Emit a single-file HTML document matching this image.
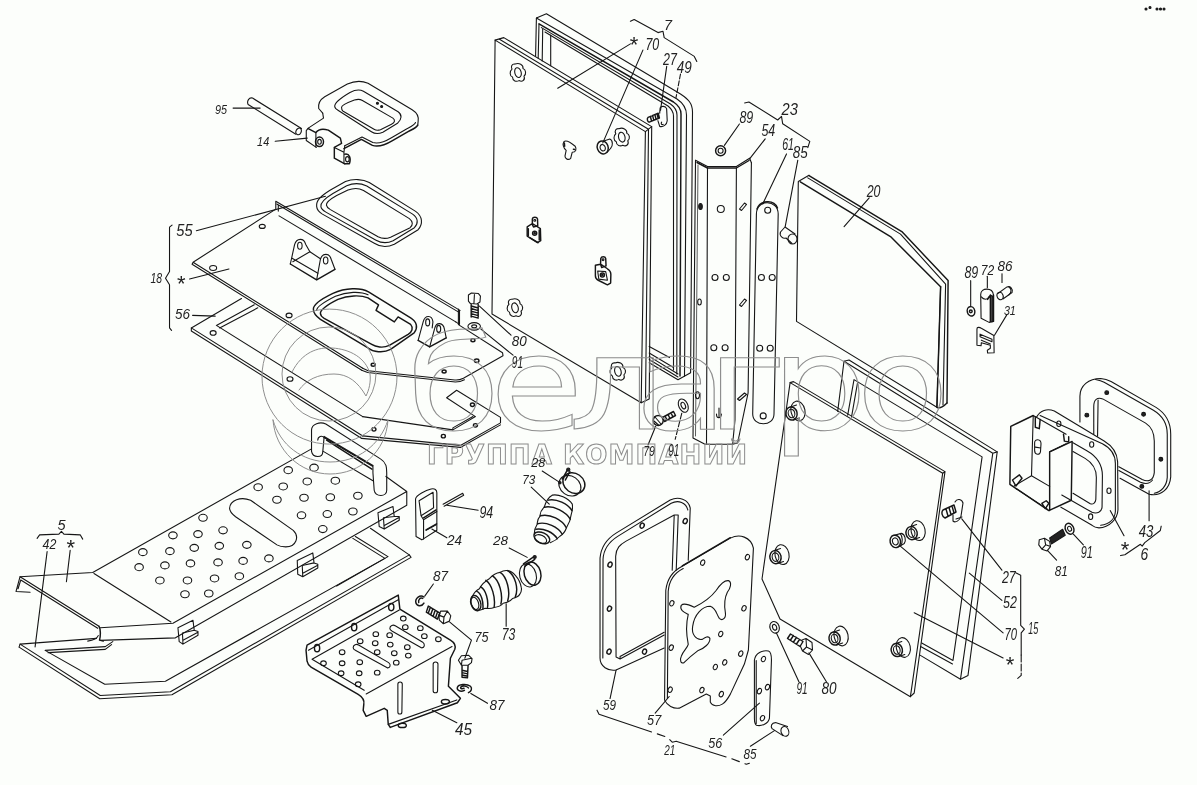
<!DOCTYPE html>
<html lang="ru">
<head>
<meta charset="utf-8">
<title>Схема</title>
<style>
html,body{margin:0;padding:0;background:#fcfefb;overflow:hidden}
svg{display:block}
.d path,.d polyline,.d line,.d ellipse,.d circle,.d rect{fill:none;stroke:#161616;stroke-width:1.1;vector-effect:non-scaling-stroke;stroke-linecap:round;stroke-linejoin:round}
.d .b{stroke-width:1.45}
.d .t{stroke-width:.7}
.d .f{fill:#222}
.d .w{fill:#fcfefb}
.d .wm path,.d .wm circle{stroke:#8e8e8e;stroke-width:1}
.d .wm text{fill:none;stroke:#8e8e8e;stroke-width:1}
.d text{font-family:"Liberation Sans",sans-serif;font-style:italic;fill:#222;stroke:none}
</style>
</head>
<body>
<svg class="d" width="1197" height="785" viewBox="0 0 1197 785">
<rect x="0" y="0" width="1197" height="785" style="fill:#fcfefb;stroke:none"/>
<!-- R1: handle 14 + pin 95 -->
<g transform="translate(200,70) scale(0.200501)">
<path d="M262,140 L506,292 M240,172 L478,320 M262,140 C245,135 232,155 240,172"/>
<ellipse cx="492" cy="306" rx="13" ry="17" transform="rotate(25 492 306)"/>
<line x1="165" y1="190" x2="300" y2="190"/>
<line x1="375" y1="355" x2="535" y2="340"/>
<!-- handle outer -->
<path d="M612,215 L592,192 C588,165 598,148 622,133 L735,70 C770,54 810,54 838,66 L1058,198 C1084,214 1092,232 1088,255 L1086,275"/>
<path class="b" d="M1086,275 C1080,288 1060,296 1040,306 L960,352 C930,370 890,386 860,376 L805,346 L718,392"/>
<path d="M1075,262 C1070,275 1050,284 1030,294 L955,338 C925,356 890,370 862,362 L808,334 L722,378"/>
<path d="M612,215 L616,240 L540,290 L530,302 L530,352 L580,386"/>
<path class="b" d="M540,292 L578,312 C590,296 615,292 640,300 L700,340 L706,366 L670,386 L670,440 L722,468"/>
<path d="M578,312 L578,384"/>
<ellipse class="b" cx="596" cy="358" rx="20" ry="24"/>
<ellipse cx="596" cy="358" rx="9" ry="12"/>
<path d="M670,386 L718,410 L718,466 M718,410 L722,378"/>
<path class="b" d="M722,420 C745,415 755,440 745,468 L722,468"/>
<ellipse cx="735" cy="445" rx="9" ry="13"/>
<!-- inner ring -->
<path d="M672,182 C670,165 700,140 748,112 C775,98 800,98 815,106 L988,208 C1008,222 1008,245 985,266 L912,310 C890,320 870,318 855,308 L690,202 C678,195 672,190 672,182 Z"/>
<path d="M706,186 C706,176 730,165 770,150 C785,145 800,146 810,152 L962,240 C975,250 972,262 955,270 L900,298 C888,302 875,300 868,296 L712,204 C708,200 706,194 706,186 Z"/>
<circle class="f" cx="885" cy="166" r="5"/><circle class="f" cx="906" cy="182" r="5"/>
</g>

<!-- R2: plate 18, gasket 55, 56 (upper part) -->
<g transform="translate(160,165) scale(0.250627)">
<!-- gasket 55 -->
<path d="M625,165 C622,140 645,122 680,100 L740,66 C770,54 810,56 835,70 L1020,185 C1048,205 1050,235 1030,258 L935,316 C905,330 875,325 855,312 L648,196 C632,186 626,178 625,165 Z"/>
<path d="M642,166 C640,148 660,132 690,114 L745,83 C770,72 800,72 825,84 L1008,196 C1030,212 1032,232 1015,250 L930,302 C905,314 880,310 862,300 L662,188 C648,180 643,175 642,166 Z"/>
<path d="M664,160 C662,148 680,136 705,122 L750,100 C770,92 795,92 812,102 L995,214 C1010,226 1010,240 998,250 L920,288 C900,296 885,294 870,286 L680,178 C670,172 665,168 664,160 Z"/>
<!-- plate -->
<path d="M462,145 L1197,580 M462,145 L462,176 L132,388 L128,396 L805,819 M132,388 L809,811"/>
<path d="M466,156 L1195,589 M472,160 L472,184"/>
<path d="M475,203 L1180,626"/>
<path d="M1195,580 L1195,636 L1180,626"/>
<ellipse cx="408" cy="245" rx="12" ry="8"/><ellipse cx="212" cy="411" rx="14" ry="10"/><ellipse cx="515" cy="600" rx="12" ry="9"/>
<!-- centre bracket -->
<path d="M520,395 L537,318 C545,290 574,290 581,316 L598,346 M625,458 L640,376 C648,350 676,350 683,376 L698,416"/>
<path class="b" d="M520,395 L625,458 L698,416"/>
<path d="M598,346 L530,386 M598,346 L640,374 M527,372 L630,432"/>
<ellipse cx="558" cy="322" rx="9" ry="14"/><ellipse cx="661" cy="381" rx="9" ry="14"/>
<!-- slot opening -->
<path class="b" d="M612,576 C610,556 640,536 690,512 C740,490 800,488 832,506 L1000,610 C1026,626 1030,650 1014,670 L920,736 C890,752 850,746 830,730 L640,616 C620,602 612,590 612,576 Z"/>
<path class="b" d="M640,592 C640,576 670,556 710,536 C750,520 800,518 830,530 L872,558 L862,580 L935,626 L950,606 L1000,636 C1012,650 1006,666 990,676 L915,720 C890,732 860,726 845,716 L655,612 C645,606 640,598 640,592 Z"/>
<path d="M625,580 C625,566 652,548 700,524 C745,505 800,503 830,518"/>
<!-- right ears -->
<path d="M1030,700 L1050,626 C1058,596 1086,598 1089,626 L1086,650 M1076,726 L1096,652 C1102,626 1130,626 1135,656 L1142,690"/>
<path class="b" d="M1030,700 L1076,726 L1142,690"/>
<ellipse cx="1068" cy="628" rx="8" ry="14"/><ellipse cx="1112" cy="654" rx="8" ry="14"/>
<!-- 56 -->
<path d="M325,533 L125,650 L125,662 L805,1091 M125,650 L809,1081"/>
<path d="M376,558 L225,640 L809,1004 M390,570 L238,650"/>
<ellipse cx="212" cy="670" rx="12" ry="9"/>
<!-- leaders -->
<line x1="145" y1="262" x2="660" y2="125"/>
<line x1="118" y1="455" x2="275" y2="415"/>
<line x1="130" y1="600" x2="220" y2="603"/>
<path d="M48,240 L38,248 L38,425 L22,452 L38,478 L38,650 L46,660"/>
</g>

<!-- R3: plate 18 lower-right, 56 right end, bolt 80 washer 91 -->
<g transform="translate(300,280) scale(0.250627)">
<path d="M632,116 L632,178 L808,290 L810,302 L652,392 C640,398 630,400 618,399 L272,362 L250,352"/>
<path d="M246,360 L270,369 L620,407 C635,407 645,404 656,398"/>
<ellipse class="b" cx="292" cy="338" rx="8" ry="6"/><ellipse class="b" cx="575" cy="365" rx="8" ry="6"/><ellipse class="b" cx="705" cy="322" rx="9" ry="7"/><ellipse class="b" cx="690" cy="240" rx="8" ry="6"/>
<!-- washer 91 -->
<ellipse cx="695" cy="185" rx="25" ry="15"/><ellipse cx="695" cy="185" rx="10" ry="6"/>
<!-- bolt 80 -->
<path d="M672,60 L684,52 L712,54 L720,64 L718,88 L706,96 L680,94 L672,84 Z M696,58 L694,94"/>
<path class="b" d="M683,98 L683,148 M711,98 L711,148 M683,104 L711,112 M683,114 L711,122 M683,124 L711,132 M683,134 L711,142 M683,144 L711,152"/>
<line x1="716" y1="104" x2="842" y2="220"/>
<line x1="722" y1="196" x2="850" y2="300"/>
<!-- 56 -->
<path d="M250,545 L610,598 L700,545 L585,470 L625,440 L800,548 L800,570 L640,660 L250,622"/>
<path d="M246,632 L640,668 L800,578"/>
<path d="M610,598 L610,590 L690,545"/>
<ellipse class="b" cx="295" cy="596" rx="8" ry="7"/><ellipse class="b" cx="572" cy="623" rx="8" ry="7"/><ellipse class="b" cx="700" cy="580" rx="8" ry="7"/><ellipse class="b" cx="688" cy="498" rx="8" ry="7"/>
</g>

<!-- R4: door 7 (global coords) -->
<g>
<path d="M495.1,40.1 L645.4,131.6 L641.2,402.8 L492,314 Z"/>
<path d="M495.1,40.1 L503.8,37.6 L651.7,126.6 L649.2,399 L641.2,402.8"/>
<path d="M499.5,39.2 L648.5,129.2 L645.5,400.8"/>
<path d="M645.4,131.6 L651.7,126.6"/>
<!-- frame 49 -->
<path d="M535.6,56 L536.4,18 L546.4,13.8 L680.5,94 C688,99 692.5,103 692.5,112 L690.6,372.7 L678,379.7 L649.2,362.7"/>
<path d="M536.4,18 L677,99 C683,103 686.5,108 686.5,115 L684.5,376"/>
<path class="b" d="M539,23.8 L673.5,102 C678,105 681,108 681,114 L680,376"/>
<path d="M541.4,27.6 L670.5,104 C674,106.5 677,110 677,115 L676.8,374"/>
<path d="M545,32 L668,106 C671,108.5 673.5,112 673.5,116 L673.5,370"/>
<path d="M539,24 L538.2,58 M542.7,29 L542.2,61 M550.7,35 L550.7,65.7"/>
<path d="M649.2,346.4 L669.5,357.6 M649.2,356.4 L678,374 M649.2,359.5 L678,377 M649.2,353 L673.5,367.5"/>
<!-- wing nuts -->
</g>

<g transform="translate(518,72.6)"><path d="M-3,-8.5 C-6,-9 -7.5,-6 -6,-3.5 C-8.5,-1.5 -8.5,3.5 -5.5,4.5 C-5.5,8.5 -1.5,9.5 1,8 C4.5,10 7.5,7 6,3.5 C8.5,1.5 8,-3 5,-4 C5.5,-8 1,-10 -3,-8.5 Z"/><ellipse cx="0" cy="0" rx="3.2" ry="5" transform="rotate(-15)"/></g><g transform="translate(621.8,137.2)"><path d="M-3,-8.5 C-6,-9 -7.5,-6 -6,-3.5 C-8.5,-1.5 -8.5,3.5 -5.5,4.5 C-5.5,8.5 -1.5,9.5 1,8 C4.5,10 7.5,7 6,3.5 C8.5,1.5 8,-3 5,-4 C5.5,-8 1,-10 -3,-8.5 Z"/><ellipse cx="0" cy="0" rx="3.2" ry="5" transform="rotate(-15)"/></g><g transform="translate(515,307.8)"><path d="M-3,-8.5 C-6,-9 -7.5,-6 -6,-3.5 C-8.5,-1.5 -8.5,3.5 -5.5,4.5 C-5.5,8.5 -1.5,9.5 1,8 C4.5,10 7.5,7 6,3.5 C8.5,1.5 8,-3 5,-4 C5.5,-8 1,-10 -3,-8.5 Z"/><ellipse cx="0" cy="0" rx="3.2" ry="5" transform="rotate(-15)"/></g><g transform="translate(617.9,371.4)"><path d="M-3,-8.5 C-6,-9 -7.5,-6 -6,-3.5 C-8.5,-1.5 -8.5,3.5 -5.5,4.5 C-5.5,8.5 -1.5,9.5 1,8 C4.5,10 7.5,7 6,3.5 C8.5,1.5 8,-3 5,-4 C5.5,-8 1,-10 -3,-8.5 Z"/><ellipse cx="0" cy="0" rx="3.2" ry="5" transform="rotate(-15)"/></g>
<g transform="translate(500,50) scale(0.15038)">
<!-- nut 70 -->
<ellipse class="b" cx="683" cy="648" rx="36" ry="44" transform="rotate(-20 683 648)"/><ellipse cx="683" cy="650" rx="17" ry="22" transform="rotate(-20 683 650)"/>
<path d="M690,605 L730,592 C752,600 752,640 735,655 L712,680"/>
<!-- keyhole -->
<path d="M425,610 C440,595 470,615 500,640 C512,660 505,680 480,680 L470,720 C455,735 432,725 432,705 L440,668 C420,650 415,625 425,610 Z"/>
<path class="b" d="M428,618 L430,640 M488,660 L498,662"/>
<!-- bolt 27 -->
<path class="b" d="M985,448 C975,455 980,478 992,480 L1060,452 L1052,420 Z M1000,442 L1008,474 M1015,436 L1023,468 M1030,430 L1038,462 M1044,424 L1052,456"/>
<path d="M1065,385 C1072,370 1100,372 1108,390 L1112,470 C1110,495 1085,515 1062,508 L1050,470 M1062,420 L1065,385 M1075,480 C1068,490 1075,500 1085,495"/>
</g>
<!-- R5: channel 54, strip 61, glass 20, pin 85, washer 89 (global coords) -->
<g>
<!-- channel 54 -->
<path d="M695.5,160.2 L707.5,166.5 L736.4,166.5 L749.6,158.2 L751.4,162.7"/>
<path class="b" d="M697,162.5 L707.5,168 L736.4,168 L749,160.5"/>
<path d="M695.5,160.2 L693,437.9 L705,444.2 L732.6,444.2 L737.6,443 L748.1,392.8 L751.4,162.7"/>
<path d="M707.5,168 L706.5,444 M736.4,168 L735,420 L732.6,444.2"/>
<path d="M698,165 L695.5,436" class="t"/>
<ellipse class="f" cx="700.5" cy="206.5" rx="1.8" ry="3"/><circle cx="720.8" cy="209" r="3.5"/>
<path d="M739.5,209 L744.5,203 L746.5,204.5 L741.5,210.5 Z"/>
<circle cx="715" cy="277.5" r="3"/><circle cx="726.3" cy="277.5" r="3"/>
<ellipse cx="699.5" cy="302" rx="1.8" ry="3"/>
<path d="M739.5,305 L744.5,299 L746.5,300.5 L741.5,306.5 Z"/>
<circle cx="713.8" cy="347.7" r="3"/><circle cx="725.1" cy="347.7" r="3"/>
<ellipse cx="697.5" cy="395.3" rx="2" ry="3.5"/>
<path d="M737.5,399 L744.5,393 L746.5,394.5 L739.5,400.5 Z"/>
<path d="M716.5,414 C716.5,419 721,419 721.5,414 M719,408 L719,417"/>
<!-- strip 61 -->
<path d="M756.4,214 C756.4,199 778.2,199 778.2,214 L774,414 C774,427 752.7,427 752.7,414 Z"/>
<path class="b" d="M757,209 C760,200 774,199 777.5,208"/>
<circle cx="767.7" cy="210.3" r="3"/><circle cx="761.4" cy="277.5" r="3"/><circle cx="772.2" cy="277.5" r="3"/><circle cx="759.7" cy="348.2" r="3"/><circle cx="770.2" cy="348.2" r="3"/><circle cx="763.2" cy="415.9" r="3"/>
<!-- pin 85 -->
<path d="M785,227 L780.5,232 C779,236 783,239 786,238 L792,243.5 M785,227 L795,234"/>
<ellipse cx="792.5" cy="239" rx="4.5" ry="5"/>
<!-- washer 89 -->
<circle class="b" cx="720.6" cy="150.8" r="5"/><circle cx="720.6" cy="150.8" r="2.5"/>
<!-- glass 20 -->
<path d="M809,175.2 L798.3,181.5 L796.5,321.4 L936.9,407.3 L940.6,286.7"/>
<path class="b" d="M800.3,181.8 L890.5,236.6 L940.6,286.7 M809,175.7 L901.8,231.6 L948.1,280.5 L947,403"/>
<path d="M807.8,177.9 L900.5,234.1 L945.6,284.2 L943,405"/>
<path class="b" d="M940.6,286.7 L936.9,407.3 C940,409 945,405 947,403"/>
</g>

<!-- R7: door 15 (global coords) -->
<g>
<path d="M790.1,382.6 L942.7,473.2 L910.4,696.7 L780,619 L762,579 Z"/>
<path d="M790.1,382.6 L793.5,381.6 L945,471.6 L914.2,693 L910.4,696.7 M942.7,473.2 L945,471.6"/>
<!-- frame 52 -->
<path d="M837.7,411.4 L844,361.3 L849,360 L997.2,451.9 L968,675.4 L960.5,679.2 L920.4,655.4"/>
<path d="M844,361.3 L992.8,453.2 L960.5,679.2 M992.8,453.2 L997.2,451.9"/>
<path d="M847.7,415.2 L854,379.6 L982.1,456.9 L953,660.4 L921.7,642.9"/>
<path d="M851.5,417.2 L857.7,381.8 M920.6,646.6 L952.5,664"/>
<g transform="translate(779.5,555.6)"><ellipse cx="2.5" cy="-1" rx="7" ry="10" transform="rotate(-12 2.5 -1)"/><ellipse class="b" cx="-4" cy="1.5" rx="5.6" ry="6.6" transform="rotate(-12 -4 1.5)"/><ellipse cx="-4" cy="1.5" rx="3.3" ry="4.3" transform="rotate(-12 -4 1.5)"/><path d="M-5,-5 L1,-7 M-2,8 L4,6"/></g><g transform="translate(915.6,531.6)"><ellipse cx="2.5" cy="-1" rx="7" ry="10" transform="rotate(-12 2.5 -1)"/><ellipse class="b" cx="-4" cy="1.5" rx="5.6" ry="6.6" transform="rotate(-12 -4 1.5)"/><ellipse cx="-4" cy="1.5" rx="3.3" ry="4.3" transform="rotate(-12 -4 1.5)"/><path d="M-5,-5 L1,-7 M-2,8 L4,6"/></g><g transform="translate(838.6,637)"><ellipse cx="2.5" cy="-1" rx="7" ry="10" transform="rotate(-12 2.5 -1)"/><ellipse class="b" cx="-4" cy="1.5" rx="5.6" ry="6.6" transform="rotate(-12 -4 1.5)"/><ellipse cx="-4" cy="1.5" rx="3.3" ry="4.3" transform="rotate(-12 -4 1.5)"/><path d="M-5,-5 L1,-7 M-2,8 L4,6"/></g><g transform="translate(900.8,648.5)"><ellipse cx="2.5" cy="-1" rx="7" ry="10" transform="rotate(-12 2.5 -1)"/><ellipse class="b" cx="-4" cy="1.5" rx="5.6" ry="6.6" transform="rotate(-12 -4 1.5)"/><ellipse cx="-4" cy="1.5" rx="3.3" ry="4.3" transform="rotate(-12 -4 1.5)"/><path d="M-5,-5 L1,-7 M-2,8 L4,6"/></g><g transform="translate(795.5,412)"><ellipse cx="2.5" cy="-1" rx="7" ry="10" transform="rotate(-12 2.5 -1)"/><ellipse class="b" cx="-4" cy="1.5" rx="5.6" ry="6.6" transform="rotate(-12 -4 1.5)"/><ellipse cx="-4" cy="1.5" rx="3.3" ry="4.3" transform="rotate(-12 -4 1.5)"/><path d="M-5,-5 L1,-7 M-2,8 L4,6"/></g>
<g transform="translate(895.3,541.4)"><ellipse class="b" cx="0" cy="0" rx="5.2" ry="6.3" transform="rotate(-15)"/><ellipse cx="0" cy="0" rx="2.8" ry="3.6" transform="rotate(-15)"/><path d="M-1,-6.2 L6,-8 C10,-7 11,-1 9,2 L3,5.5"/><path d="M5,-7.5 C7.5,-5 7.5,1 5.5,4"/></g>
<!-- bolt 27 lower -->
<path class="b" d="M943,510 C941,512 942,517 945,518 L956,512 L954,505 Z M946,509 L948,516 M949,507.5 L951,514.5 M952,506 L954,513"/>
<path d="M955,502 C957,498 962,499 963,503 L961,516 C960,521 955,523 953,521 L953,515 M956,519 L962,517"/>
<!-- washer 91, bolt 80 -->
<ellipse cx="774.6" cy="627.3" rx="4.6" ry="6" transform="rotate(-20 774.6 627.3)"/><ellipse cx="774.6" cy="627.3" rx="2" ry="3" transform="rotate(-20 774.6 627.3)"/>
<path class="b" d="M787.5,638.5 L790.5,634 L803,641.5 L800,646.5 Z M790.5,640 L793.5,635.5 M793.5,642 L796.5,637.5 M796.5,644 L799.5,639.5"/>
<path d="M802,640 L806,638.5 L812,642.5 L812.5,650 L808.5,654.5 L802.5,651 L800.5,646.5 M806,638.5 L806.5,647 L802.5,651 M806.5,647 L812.5,650"/>
</g>

<!-- R9: 89/72/86/31 small parts -->
<g transform="translate(950,270) scale(0.125313)">
<ellipse class="b" cx="168" cy="330" rx="30" ry="38" transform="rotate(-15 168 330)"/><circle class="b" cx="166" cy="330" r="11"/>
<path d="M245,195 C245,140 340,135 347,200 L347,410 L312,418 L248,385 Z"/>
<path class="b" d="M300,235 L322,200 L345,215 M322,200 L322,410 M335,210 L335,412 M347,200 L347,410"/>
<path d="M250,215 C270,240 300,240 310,215"/>
<path d="M385,185 L455,135 C480,125 505,150 495,180 L425,230"/>
<ellipse cx="400" cy="208" rx="24" ry="30" transform="rotate(-20 400 208)"/>
<path d="M470,135 C495,150 490,180 470,198"/>
<path d="M215,470 C215,455 235,455 250,465 L350,522 L352,660 L300,662 L298,640 L322,625 L322,600 L250,580 L248,605 L215,600 Z"/>
<path d="M240,512 L335,552 L335,572 L240,532 Z M250,560 L322,590"/>
<line x1="165" y1="85" x2="165" y2="290"/><line x1="298" y1="50" x2="298" y2="142"/><line x1="415" y1="30" x2="415" y2="100"/><line x1="452" y1="360" x2="355" y2="520"/>
</g>

<!-- R10: box 6, gasket 43, bolt 81, washer 91 -->
<g transform="translate(990,365) scale(0.172932)">
<!-- gasket 43 -->
<path d="M520,330 L520,180 C520,120 570,78 640,78 C665,80 680,85 700,96 L960,245 C1020,282 1045,330 1045,400 L1045,647 C1040,715 990,762 920,747 L752,655"/>
<path d="M610,84 C630,88 645,92 660,100 L945,262 C1000,295 1025,340 1025,400 L1025,650 C1022,700 990,735 950,742"/>
<path d="M600,400 L600,240 C600,200 620,184 652,196 L900,336 C940,362 950,400 950,440 L950,622 C945,665 918,680 880,662 L745,588"/>
<path d="M622,412 L625,202 M745,610 L870,678 C900,690 925,685 940,665"/>
<circle class="f" cx="675" cy="160" r="11"/><circle class="f" cx="560" cy="290" r="11"/><circle class="f" cx="888" cy="285" r="11"/><circle class="f" cx="988" cy="545" r="11"/><circle class="f" cx="878" cy="702" r="11"/>
<!-- box flange -->
<path d="M270,300 C290,262 330,250 372,266 L660,440 C710,470 735,510 738,560 L740,837 C738,890 690,940 630,942 C610,940 600,935 590,927 L410,822"/>
<path d="M290,292 L650,456 C700,482 725,520 725,570 L725,847 C722,890 690,920 640,927"/>
<path d="M480,450 L560,496 C620,530 650,580 650,640 L648,822 C645,850 620,862 590,852 L415,752"/>
<path d="M480,500 L550,540 C600,570 615,610 615,650 L612,777 C610,800 595,808 580,802 L480,742"/>
<ellipse cx="398" cy="340" rx="12" ry="16"/><ellipse cx="588" cy="460" rx="12" ry="16"/><ellipse cx="688" cy="727" rx="12" ry="16"/><ellipse cx="582" cy="877" rx="12" ry="16"/>
<!-- box body -->
<path class="b" d="M250,292 L120,355 L115,690 L340,842 L470,782 L475,442 L345,502 L345,842"/>
<path d="M250,292 L240,640 L140,700 M240,640 L345,702 M250,292 L440,400 M345,502 L440,455 M150,715 L330,832"/>
<path class="b" d="M262,300 L262,360 L285,368 L290,315 M425,400 L430,440 L455,445 L455,415 M130,665 L170,635 L185,655 L150,700 Z M300,800 L325,785 L340,800 L320,830 Z"/>
<path d="M258,450 C258,425 295,425 295,455 L292,500 C290,525 258,520 258,495 Z M262,475 L293,480"/>
<!-- bolt 81 -->
<path d="M285,1010 L315,1002 L345,1020 L350,1050 L330,1075 L300,1065 L282,1040 Z M315,1002 L322,1040 L350,1050 M322,1040 L300,1065"/>
<path d="M345,1000 L420,950 L435,985 L355,1035 Z" style="fill:#222"/>
<ellipse class="b" cx="460" cy="947" rx="24" ry="33" transform="rotate(-25 460 947)"/><ellipse cx="460" cy="947" rx="11" ry="15" transform="rotate(-25 460 947)"/>
<line x1="482" y1="978" x2="540" y2="1040"/><line x1="332" y1="1072" x2="385" y2="1128"/>
<line x1="695" y1="842" x2="775" y2="987"/>
<path d="M920,727 L920,900" stroke-dasharray="40 8"/>
<path d="M990,932 L985,957 L895,1027 L880,1047 L870,1037 L780,1097 L755,1102"/>
</g>

<!-- R12: step 5 / gasket 42 / handle / latch 24 -->
<g transform="translate(0,400) scale(0.250627)">
<path d="M80,705 L370,688 L1243,195 M1290,205 L1488,322 M1540,305 L1623,365 L1623,420 L700,949 L400,959 M1623,365 L690,891 L400,909 M375,692 L682,886"/>
<path d="M80,705 L64,764 L120,767 M83,718 L72,753 M80,705 L395,903 M83,718 L390,911"/>
<path class="b" d="M395,903 C403,915 401,945 397,958 L412,962"/><path d="M350,962 C375,958 388,950 392,940"/>
<ellipse cx="1150" cy="280" rx="17" ry="14"/><ellipse cx="1030" cy="348" rx="17" ry="14"/><ellipse cx="1130" cy="345" rx="17" ry="14"/><ellipse cx="1105" cy="398" rx="17" ry="14"/><ellipse cx="810" cy="470" rx="17" ry="14"/><ellipse cx="690" cy="540" rx="17" ry="14"/><ellipse cx="790" cy="535" rx="17" ry="14"/><ellipse cx="890" cy="520" rx="17" ry="14"/><ellipse cx="570" cy="607" rx="17" ry="14"/><ellipse cx="678" cy="603" rx="17" ry="14"/><ellipse cx="775" cy="590" rx="17" ry="14"/><ellipse cx="875" cy="582" rx="17" ry="14"/><ellipse cx="985" cy="578" rx="17" ry="14"/><ellipse cx="555" cy="667" rx="17" ry="14"/><ellipse cx="658" cy="660" rx="17" ry="14"/><ellipse cx="760" cy="652" rx="17" ry="14"/><ellipse cx="870" cy="648" rx="17" ry="14"/><ellipse cx="970" cy="642" rx="17" ry="14"/><ellipse cx="1073" cy="632" rx="17" ry="14"/><ellipse cx="638" cy="720" rx="17" ry="14"/><ellipse cx="748" cy="720" rx="17" ry="14"/><ellipse cx="856" cy="712" rx="17" ry="14"/><ellipse cx="955" cy="703" rx="17" ry="14"/><ellipse cx="738" cy="775" rx="17" ry="14"/><ellipse cx="833" cy="772" rx="17" ry="14"/><ellipse cx="1253" cy="270" rx="17" ry="14"/><ellipse cx="1226" cy="325" rx="17" ry="14"/><ellipse cx="1338" cy="322" rx="17" ry="14"/><ellipse cx="1428" cy="382" rx="17" ry="14"/><ellipse cx="1318" cy="388" rx="17" ry="14"/><ellipse cx="1213" cy="390" rx="17" ry="14"/><ellipse cx="1408" cy="445" rx="17" ry="14"/><ellipse cx="1306" cy="455" rx="17" ry="14"/><ellipse cx="1203" cy="460" rx="17" ry="14"/><ellipse cx="1288" cy="515" rx="17" ry="14"/>
<path d="M916,432 C918,400 960,384 1000,400 L1170,520 C1196,545 1182,586 1140,586 C1125,586 1115,584 1105,578 L940,466 C922,452 916,442 916,432 Z"/>
<!-- clips -->
<path d="M1508,450 L1568,425 L1573,465 L1593,465 L1593,480 L1533,515 L1513,505 Z M1533,515 L1530,470 L1573,465 M1535,500 L1590,470"/>
<path d="M1186,640 L1248,610 L1253,650 L1268,655 L1268,670 L1208,705 L1188,695 Z M1208,705 L1206,660 L1253,650 M1210,690 L1266,660"/>
<path d="M710,909 L770,879 L775,919 L790,924 L790,939 L730,974 L715,964 Z M730,974 L728,930 L775,919 M732,958 L788,928"/>
<!-- handle -->
<path d="M1243,120 C1243,95 1278,85 1300,96 L1518,235 C1543,250 1543,270 1543,290 L1543,360 C1543,388 1498,388 1493,360 L1488,290 L1488,265 L1293,150 L1288,205 C1288,232 1248,232 1243,205 Z"/>
<path class="b" d="M1293,146 L1488,262 M1303,160 L1484,276"/>
<path d="M1268,160 C1268,145 1285,140 1293,150"/>
<!-- gasket 42 -->
<path d="M385,951 L80,974 L400,1179 L680,1164 L1633,618 L1478,512"/>
<path d="M76,986 L398,1192 L686,1176 L1640,628 L1633,618 M80,974 L76,986"/>
<path d="M450,964 L420,984 L180,999 L418,1134 L660,1122 L1548,625 L1418,545"/>
<path d="M445,976 L420,995 L192,1008 M1408,552 L1536,632 L1343,742"/>
<!-- latch 24 -->
<path d="M1658,395 C1660,380 1700,360 1720,355 C1735,352 1743,358 1743,370 L1743,520 L1683,558 L1660,545 Z"/>
<path d="M1672,402 L1728,368 L1730,430 L1680,462 Z M1680,462 L1690,478 L1743,445 M1690,478 L1690,555 M1700,520 L1740,498"/>
<path class="b" d="M1690,470 L1740,438 M1700,518 L1742,494"/>
<path d="M1768,416 L1846,372 M1772,424 L1850,380 L1846,372"/>
<line x1="1783" y1="420" x2="1908" y2="440"/><line x1="1723" y1="515" x2="1783" y2="550"/>
<path d="M148,552 L158,538 L235,535 L245,524 L255,535 L320,538 L330,555"/>
<line x1="188" y1="605" x2="140" y2="985"/><line x1="280" y1="600" x2="265" y2="725"/>
</g>

<!-- R15: bracket 45, bolts 75, clips 87 -->
<g transform="translate(290,570) scale(0.200501)">
<path class="b" d="M85,375 L540,125 L548,195 L800,350 C820,362 828,375 822,395 L800,440 L790,580 L850,640 L835,662 L500,785 M85,375 L80,400 L85,455 C88,470 95,478 105,484 L340,620 C365,635 372,650 368,670 L365,700 L380,730 L470,690 L485,700 L490,770 L500,785"/>
<path d="M110,445 L545,200 M92,400 L540,148 M380,618 L808,382 M490,770 L832,648 M110,445 L370,600"/>
<ellipse class="b" cx="135" cy="390" rx="13" ry="18"/><ellipse class="b" cx="320" cy="285" rx="13" ry="18"/><ellipse class="b" cx="505" cy="185" rx="13" ry="18"/>
<ellipse cx="565" cy="242" rx="14" ry="12"/><ellipse cx="575" cy="285" rx="14" ry="12"/><ellipse cx="650" cy="290" rx="14" ry="12"/><ellipse cx="670" cy="330" rx="14" ry="12"/><ellipse cx="740" cy="345" rx="14" ry="12"/><ellipse cx="428" cy="320" rx="14" ry="12"/><ellipse cx="497" cy="325" rx="14" ry="12"/><ellipse cx="350" cy="355" rx="14" ry="12"/><ellipse cx="425" cy="365" rx="14" ry="12"/><ellipse cx="500" cy="372" rx="14" ry="12"/><ellipse cx="585" cy="385" rx="14" ry="12"/><ellipse cx="260" cy="410" rx="14" ry="12"/><ellipse cx="435" cy="410" rx="14" ry="12"/><ellipse cx="520" cy="415" rx="14" ry="12"/><ellipse cx="590" cy="427" rx="14" ry="12"/><ellipse cx="167" cy="465" rx="14" ry="12"/><ellipse cx="260" cy="465" rx="14" ry="12"/><ellipse cx="348" cy="460" rx="14" ry="12"/><ellipse cx="530" cy="462" rx="14" ry="12"/><ellipse cx="255" cy="515" rx="14" ry="12"/><ellipse cx="345" cy="515" rx="14" ry="12"/><ellipse cx="435" cy="512" rx="14" ry="12"/><ellipse cx="340" cy="570" rx="14" ry="12"/>
<path d="M498,292 C498,275 515,272 525,278 L662,360 C675,370 672,390 655,388 L510,305 C502,300 498,298 498,292 Z"/>
<path d="M315,388 C315,372 332,368 342,374 L492,462 C505,472 500,490 485,488 L328,402 C320,398 315,395 315,388 Z"/>
<path d="M538,570 C538,555 560,555 560,570 L558,708 C558,722 538,722 538,708 Z M714,470 C714,455 738,455 738,470 L736,602 C736,616 714,616 714,602 Z"/>
<ellipse class="b" cx="775" cy="657" rx="20" ry="11"/><ellipse class="b" cx="560" cy="775" rx="20" ry="11"/>
<!-- c-clip 87 -->
<path class="b" d="M668,135 C650,120 622,140 628,165 C635,185 660,180 668,165 M662,142 C650,135 638,148 642,162"/>
<!-- bolt 75 upper -->
<path class="b" d="M690,180 L748,215 L735,245 L680,210 Z M700,186 L690,215 M712,194 L702,223 M724,201 L714,231 M736,208 L726,238"/>
<path d="M752,205 L785,205 L802,228 L795,255 L765,268 L745,250 L742,225 Z M765,268 L768,235 L785,205 M768,235 L742,225"/>
<!-- bolt 75 lower -->
<path d="M840,450 L855,428 L890,425 L908,442 L905,462 L888,475 L855,475 Z M855,475 L858,450 L905,440"/>
<path class="b" d="M858,478 L858,535 L885,538 L888,478 M858,500 L886,506 M858,512 L886,518 M858,524 L886,530"/>
<!-- c-clip lower -->
<path class="b" d="M870,600 C850,610 830,600 835,585 C840,570 880,565 900,580 C910,590 905,605 890,612 M868,590 C855,595 848,590 852,584 C860,576 882,578 890,588"/>
<line x1="715" y1="70" x2="672" y2="130"/><path d="M797,260 L905,350 L872,440"/><line x1="902" y1="616" x2="985" y2="665"/><line x1="710" y1="700" x2="832" y2="762"/>
</g>

<!-- R16: upper bellows 73 + clamp 28 -->
<g transform="translate(450,440) scale(0.200501)">
<ellipse cx="598" cy="228" rx="48" ry="58" transform="rotate(-55 598 228)"/><ellipse class="b" cx="618" cy="215" rx="48" ry="58" transform="rotate(-55 618 215)"/>
<path class="b" d="M560,195 L585,150 M575,200 L598,158"/><circle class="f" cx="590" cy="148" r="8"/><circle class="f" cx="548" cy="213" r="6"/>
<path d="M510,275 C490,285 480,300 470,335 C455,350 448,365 450,378 C438,392 434,405 436,418 C425,435 420,455 420,470 M510,275 C540,268 590,290 610,320 C612,335 610,355 605,370 C602,395 595,415 582,435 C575,455 565,470 548,480 C535,495 520,505 500,512"/>
<path class="b" d="M490,300 C530,290 590,320 608,352 M470,335 C520,325 580,360 600,395 M450,378 C500,365 560,400 580,437 M436,418 C480,405 540,435 560,470 M428,445 C465,438 515,460 535,492"/>
<ellipse class="b" cx="458" cy="488" rx="42" ry="26" transform="rotate(25 458 488)"/><ellipse cx="452" cy="494" rx="32" ry="19" transform="rotate(25 452 494)"/>
<line x1="460" y1="155" x2="545" y2="210"/><line x1="405" y1="235" x2="495" y2="320"/>
</g>
<!-- R17: lower bellows 73 + clamp 28 -->
<g transform="translate(440,530) scale(0.150376)">
<ellipse cx="585" cy="302" rx="55" ry="78" transform="rotate(-15 585 302)"/><ellipse class="b" cx="615" cy="290" rx="55" ry="78" transform="rotate(-15 615 290)"/>
<path class="b" d="M555,225 L620,180 M565,240 L630,195"/><circle class="f" cx="630" cy="180" r="10"/>
<path d="M215,440 C225,420 240,400 262,390 C275,365 300,340 330,322 C350,300 375,285 400,282 C415,272 435,268 450,270 C480,272 530,320 540,380 C545,400 540,415 530,428 C520,445 505,450 482,456 C465,475 445,485 420,487 C405,505 385,512 360,515 C345,522 325,524 300,520 C280,530 260,535 240,535"/>
<path class="b" d="M450,270 C500,300 525,390 500,447 M400,282 C445,310 470,410 450,472 M350,305 C395,335 420,430 405,492 M305,335 C345,360 370,450 360,512 M270,378 C305,395 325,470 315,521 M245,408 C275,420 290,480 285,526"/>
<ellipse class="b" cx="238" cy="486" rx="32" ry="52" transform="rotate(-18 238 486)"/><ellipse cx="232" cy="488" rx="24" ry="42" transform="rotate(-18 232 488)"/>
<line x1="460" y1="120" x2="580" y2="182"/><line x1="440" y1="490" x2="440" y2="640"/>
</g>

<!-- R18: gasket 59, plate 57, strip 56, pin 85 -->
<g transform="translate(590,490) scale(0.200501)">
<path d="M490,350 L500,90 C492,45 440,30 400,50 L130,215 C90,240 55,280 50,340 L50,838 C50,880 90,905 130,898 L370,788"/>
<path d="M488,100 C480,62 440,48 405,66 L140,230 C100,255 68,290 65,345 L64,838"/>
<path d="M430,400 L440,125 L420,125 L180,255 C150,272 130,290 128,330 L130,833 L150,843 L370,723 M420,125 L410,400 M150,830 L370,710 M150,843 L150,830"/>
<ellipse class="b" cx="260" cy="178" rx="10" ry="13" transform="rotate(25 260 178)"/><ellipse class="b" cx="475" cy="155" rx="10" ry="13" transform="rotate(25 475 155)"/><ellipse class="b" cx="100" cy="372" rx="10" ry="13" transform="rotate(25 100 372)"/><ellipse class="b" cx="97" cy="592" rx="10" ry="13" transform="rotate(25 97 592)"/><ellipse class="b" cx="95" cy="806" rx="10" ry="13" transform="rotate(25 95 806)"/><ellipse class="b" cx="272" cy="806" rx="10" ry="13" transform="rotate(25 272 806)"/>
<path d="M372,1028 L378,500 C385,440 420,400 460,380 L700,240 C745,218 802,232 815,290 L790,798 L770,868 L700,1018 C685,1045 675,1060 660,1068 C640,1080 610,1080 600,1058 L600,1028 L580,1018 L445,1088 C415,1092 385,1075 372,1048 Z"/>
<path d="M386,1040 L390,505 C395,450 425,412 465,392"/>
<path class="b" d="M460,378 L700,238"/>
<ellipse cx="562" cy="362" rx="10" ry="14" transform="rotate(25 562 362)"/><ellipse cx="785" cy="335" rx="10" ry="14" transform="rotate(25 785 335)"/><ellipse cx="408" cy="565" rx="10" ry="14" transform="rotate(25 408 565)"/><ellipse cx="768" cy="590" rx="10" ry="14" transform="rotate(25 768 590)"/><ellipse cx="652" cy="718" rx="10" ry="14" transform="rotate(25 652 718)"/><ellipse cx="405" cy="786" rx="10" ry="14" transform="rotate(25 405 786)"/><ellipse cx="752" cy="816" rx="10" ry="14" transform="rotate(25 752 816)"/><ellipse cx="672" cy="860" rx="10" ry="14" transform="rotate(25 672 860)"/><ellipse cx="625" cy="883" rx="10" ry="14" transform="rotate(25 625 883)"/><ellipse cx="400" cy="996" rx="10" ry="14" transform="rotate(25 400 996)"/><ellipse cx="558" cy="998" rx="10" ry="14" transform="rotate(25 558 998)"/><ellipse cx="655" cy="1018" rx="10" ry="14" transform="rotate(25 655 1018)"/>
<path d="M455,575 C470,560 500,575 520,585 C550,570 600,540 630,500 C650,470 670,450 690,452 C710,460 700,490 685,510 C670,540 670,580 675,610 C680,640 660,655 645,640 C630,620 630,590 600,580 C560,580 520,620 512,680 C505,720 530,750 560,745 C575,735 590,725 598,740 C600,765 570,790 540,800 C500,830 480,850 470,860 C455,870 445,850 455,830 C465,800 485,790 490,770 C480,720 480,660 490,620 C470,610 445,600 455,575 Z"/>
<!-- strip 56 -->
<path d="M820,848 C825,813 860,798 890,803 C905,808 905,828 905,848 L895,1138 C890,1168 850,1180 830,1173 C820,1168 820,1153 820,1138 Z M829,850 L829,1165"/>
<ellipse cx="865" cy="843" rx="10" ry="14" transform="rotate(25 865 843)"/><ellipse cx="885" cy="983" rx="10" ry="14" transform="rotate(25 885 983)"/><ellipse cx="845" cy="1003" rx="10" ry="14" transform="rotate(25 845 1003)"/><ellipse cx="860" cy="1138" rx="10" ry="14" transform="rotate(25 860 1138)"/>
<!-- pin 85 -->
<path d="M925,1160 L985,1180 M908,1190 L962,1225 M925,1160 C905,1160 900,1180 908,1190"/><ellipse cx="972" cy="1204" rx="19" ry="25" transform="rotate(-20 972 1204)"/>
<line x1="130" y1="898" x2="100" y2="1040"/><line x1="395" y1="1030" x2="325" y2="1113"/><line x1="845" y1="1063" x2="665" y2="1223"/><line x1="920" y1="1200" x2="800" y2="1278"/>
<path d="M35,1098 L45,1118 L385,1233 L410,1258 L430,1253 L445,1258 L700,1338 L780,1368 L795,1363" stroke-dasharray="60 6 8 6"/>
</g>

<!-- bolt 79 + washer 91 -->
<g>
<circle class="b" cx="658.2" cy="420.4" r="5"/><path d="M655,417 L661,424 M654,421 L659,425.5"/>
<path class="b" d="M662.5,417.5 L673.5,411.5 L675.5,415.5 L664.5,421.5 Z M665,416 L667,420 M668,414.5 L670,418.5 M671,413 L673,417"/>
<ellipse cx="683.3" cy="405.6" rx="4.5" ry="7" transform="rotate(-25 683.3 405.6)"/><ellipse cx="683.3" cy="405.6" rx="2" ry="3.5" transform="rotate(-25 683.3 405.6)"/>
<line x1="655.7" y1="426.2" x2="648" y2="445"/><line x1="681.8" y1="413.2" x2="675.2" y2="439.3" stroke-dasharray="6 2"/>
<ellipse cx="290" cy="379" rx="3" ry="2.3"/>
</g>
<!-- labels leaders (global) -->
<g>
<path d="M630.4,21.3 L634.2,19.5 L658,32.6 L663,31.3 L664.2,37.6 L694.3,56.4 L696.8,61.4"/>
<line x1="630.4" y1="43.9" x2="557.7" y2="88.2"/><line x1="642.9" y1="50.1" x2="602.8" y2="142.9"/><line x1="666.7" y1="66.4" x2="660.5" y2="110.3"/><line x1="680.5" y1="74" x2="676" y2="97.7" stroke-dasharray="5 2"/>
<line x1="739.4" y1="124" x2="724.4" y2="145.4"/>
<!-- R5 leaders -->
<path d="M744.6,103 L748.9,102 L777.7,120 L781.5,116.3 L782.7,123.8 L809.8,141.4 L807.8,147.6"/>
<line x1="765.2" y1="138.9" x2="749.6" y2="158.9"/><line x1="786.5" y1="153.9" x2="762.7" y2="204"/><line x1="797.8" y1="160.2" x2="785.2" y2="226.6"/><line x1="869.2" y1="197.8" x2="844.1" y2="226.6"/>
<!-- R8 leaders -->
<line x1="961.8" y1="518.8" x2="1001.9" y2="570.2"/><line x1="969.3" y1="573.2" x2="1001.9" y2="600.3"/><line x1="899.1" y1="545.1" x2="1003.1" y2="632.8"/><line x1="914.2" y1="612.8" x2="1003.1" y2="657.9"/>
<path d="M1015.7,572.7 L1020.7,575.2 L1020.7,625.3 L1024.4,629.1 L1021.2,632.8 L1021.2,655"/><path d="M1021.2,655 L1021.2,675.4 L1016.9,679.2" stroke-dasharray="7 2"/>
<line x1="776.3" y1="632.8" x2="798.9" y2="681.7"/><line x1="808.9" y1="652.9" x2="826.4" y2="681.7"/>
</g>

<!-- latches on door 7 -->
<g transform="translate(510,200) scale(0.114613)">
<path class="b" d="M195,215 L195,165 C198,145 235,145 240,165 L242,225 M150,235 L195,205 L265,250 L268,355 L240,372 L150,315 Z M195,215 L205,235 L240,225"/>
<circle class="b" cx="215" cy="290" r="18"/><circle class="f" cx="215" cy="290" r="7"/><circle cx="216" cy="178" r="8"/>
<path class="b" d="M160,250 L160,310 M255,262 L255,350 M175,330 L245,372"/>
<path class="b" d="M790,560 L792,510 C798,490 830,490 835,510 L838,575 M745,570 L790,560 L850,600 C872,612 880,630 880,650 L878,725 L850,740 L770,700 C750,690 745,680 745,660 Z M790,560 L800,590 L838,575"/>
<path d="M765,620 L835,625 L850,700 L775,690 Z"/>
<circle class="b" cx="806" cy="655" r="18"/><circle class="f" cx="806" cy="655" r="7"/><circle cx="812" cy="522" r="8"/>
</g>

<g><circle class="f" cx="1146" cy="9" r="1"/><circle class="f" cx="1150" cy="7.5" r="1"/><circle class="f" cx="1157" cy="9" r="1"/><circle class="f" cx="1160.5" cy="9" r="1"/><circle class="f" cx="1164" cy="9" r="1"/></g>
<!--PARTS-->
<g class="wm" style="filter:grayscale(1)">
<circle cx="329.5" cy="376.6" r="67.5"/><circle cx="329" cy="374" r="47"/>
<path d="M292,372 C302,352 318,347 332,348 C350,349 366,358 370,374 C371,382 369,390 366,396 C358,382 348,374 334,374 C318,374 306,380 299,390"/>
<path d="M273,420 C275,450 300,474 330,474 C360,474 386,452 388,420 C380,445 358,462 330,462 C302,462 280,445 273,420 Z"/>
<text id="wmt" transform="scale(1.17,1)" x="347.5 418.5 485.9 542.6 604 658.7 731.9" y="429.5" font-size="130" style="font-family:'DejaVu Sans',sans-serif;font-style:normal">белагро</text>
<text x="427" y="464.3" font-size="26" textLength="320" lengthAdjust="spacing" style="font-family:'DejaVu Sans',sans-serif;font-style:normal;font-weight:bold">ГРУППА КОМПАНИЙ</text>
</g>
<g style="filter:grayscale(1)">
<text x="215.0" y="113.7" font-size="11.9" textLength="12.0" lengthAdjust="spacingAndGlyphs">95</text>
<text x="257.1" y="146.2" font-size="12.5" textLength="12.1" lengthAdjust="spacingAndGlyphs">14</text>
<text x="176.3" y="236.4" font-size="15.6" textLength="16.3" lengthAdjust="spacingAndGlyphs">55</text>
<text x="175.0" y="319.1" font-size="13.9" textLength="15.0" lengthAdjust="spacingAndGlyphs">56</text>
<text x="150.4" y="282.7" font-size="14.9" textLength="11.6" lengthAdjust="spacingAndGlyphs">18</text>
<text x="511.8" y="345.7" font-size="14.0" textLength="15.0" lengthAdjust="spacingAndGlyphs">80</text>
<text x="511.8" y="367.7" font-size="15.7" textLength="11.2" lengthAdjust="spacingAndGlyphs">91</text>
<text x="664.0" y="30.0" font-size="15.3" textLength="8.0" lengthAdjust="spacingAndGlyphs">7</text>
<text x="645.4" y="50.0" font-size="15.6" textLength="13.8" lengthAdjust="spacingAndGlyphs">70</text>
<text x="663.0" y="65.2" font-size="15.7" textLength="13.8" lengthAdjust="spacingAndGlyphs">27</text>
<text x="676.8" y="72.7" font-size="15.7" textLength="15.0" lengthAdjust="spacingAndGlyphs">49</text>
<text x="739.4" y="122.8" font-size="15.7" textLength="13.8" lengthAdjust="spacingAndGlyphs">89</text>
<text x="761.4" y="136.4" font-size="15.7" textLength="13.8" lengthAdjust="spacingAndGlyphs">54</text>
<text x="781.5" y="115.1" font-size="15.7" textLength="16.3" lengthAdjust="spacingAndGlyphs">23</text>
<text x="782.2" y="150.2" font-size="15.7" textLength="11.8" lengthAdjust="spacingAndGlyphs">61</text>
<text x="792.8" y="157.7" font-size="15.7" textLength="15.0" lengthAdjust="spacingAndGlyphs">85</text>
<text x="866.7" y="196.5" font-size="15.7" textLength="13.8" lengthAdjust="spacingAndGlyphs">20</text>
<text x="964.4" y="278.0" font-size="15.7" textLength="13.8" lengthAdjust="spacingAndGlyphs">89</text>
<text x="980.8" y="274.7" font-size="15.3" textLength="13.4" lengthAdjust="spacingAndGlyphs">72</text>
<text x="997.5" y="271.4" font-size="15.1" textLength="15.0" lengthAdjust="spacingAndGlyphs">86</text>
<text x="1003.9" y="314.5" font-size="12.2" textLength="11.9" lengthAdjust="spacingAndGlyphs">31</text>
<text x="479.5" y="517.8" font-size="15.7" textLength="13.7" lengthAdjust="spacingAndGlyphs">94</text>
<text x="446.9" y="545.4" font-size="14.0" textLength="15.0" lengthAdjust="spacingAndGlyphs">24</text>
<text x="433.0" y="580.5" font-size="14.0" textLength="15.0" lengthAdjust="spacingAndGlyphs">87</text>
<text x="474.5" y="642.2" font-size="15.3" textLength="14.0" lengthAdjust="spacingAndGlyphs">75</text>
<text x="489.5" y="710.3" font-size="13.9" textLength="15.0" lengthAdjust="spacingAndGlyphs">87</text>
<text x="455.0" y="735.2" font-size="17.2" textLength="17.0" lengthAdjust="spacingAndGlyphs">45</text>
<text x="531.2" y="467.0" font-size="12.5" textLength="14.0" lengthAdjust="spacingAndGlyphs">28</text>
<text x="522.2" y="484.1" font-size="12.5" textLength="13.0" lengthAdjust="spacingAndGlyphs">73</text>
<text x="493.1" y="545.3" font-size="12.6" textLength="15.0" lengthAdjust="spacingAndGlyphs">28</text>
<text x="501.7" y="639.8" font-size="15.7" textLength="13.5" lengthAdjust="spacingAndGlyphs">73</text>
<text x="643.6" y="456.4" font-size="14.0" textLength="11.1" lengthAdjust="spacingAndGlyphs">79</text>
<text x="668.2" y="456.0" font-size="15.6" textLength="11.1" lengthAdjust="spacingAndGlyphs">91</text>
<text x="603.0" y="710.3" font-size="14.0" textLength="13.0" lengthAdjust="spacingAndGlyphs">59</text>
<text x="647.1" y="725.3" font-size="13.9" textLength="14.1" lengthAdjust="spacingAndGlyphs">57</text>
<text x="664.2" y="755.4" font-size="14.0" textLength="11.0" lengthAdjust="spacingAndGlyphs">21</text>
<text x="708.3" y="748.3" font-size="13.9" textLength="14.0" lengthAdjust="spacingAndGlyphs">56</text>
<text x="743.4" y="759.4" font-size="14.0" textLength="13.0" lengthAdjust="spacingAndGlyphs">85</text>
<text x="796.4" y="694.2" font-size="15.6" textLength="11.2" lengthAdjust="spacingAndGlyphs">91</text>
<text x="821.4" y="694.2" font-size="15.6" textLength="15.1" lengthAdjust="spacingAndGlyphs">80</text>
<text x="1001.9" y="582.7" font-size="15.7" textLength="13.8" lengthAdjust="spacingAndGlyphs">27</text>
<text x="1003.1" y="607.8" font-size="15.7" textLength="13.8" lengthAdjust="spacingAndGlyphs">52</text>
<text x="1004.4" y="640.4" font-size="15.7" textLength="12.5" lengthAdjust="spacingAndGlyphs">70</text>
<text x="1028.2" y="634.1" font-size="15.7" textLength="10.0" lengthAdjust="spacingAndGlyphs">15</text>
<text x="1054.8" y="575.5" font-size="14.4" textLength="13.0" lengthAdjust="spacingAndGlyphs">81</text>
<text x="1080.8" y="558.2" font-size="15.6" textLength="12.1" lengthAdjust="spacingAndGlyphs">91</text>
<text x="1138.7" y="536.6" font-size="15.7" textLength="14.7" lengthAdjust="spacingAndGlyphs">43</text>
<text x="1140.5" y="559.9" font-size="15.6" textLength="7.7" lengthAdjust="spacingAndGlyphs">6</text>
<text x="57.6" y="530.3" font-size="14.6" textLength="8.1" lengthAdjust="spacingAndGlyphs">5</text>
<text x="42.6" y="549.1" font-size="13.9" textLength="13.8" lengthAdjust="spacingAndGlyphs">42</text>
<text x="181.2" y="291.0" font-size="22" text-anchor="middle" style="font-style:normal">*</text>
<text x="634.0" y="52.0" font-size="22" text-anchor="middle" style="font-style:normal">*</text>
<text x="1010.0" y="672.0" font-size="22" text-anchor="middle" style="font-style:normal">*</text>
<text x="1125.0" y="557.0" font-size="22" text-anchor="middle" style="font-style:normal">*</text>
<text x="70.8" y="555.0" font-size="22" text-anchor="middle" style="font-style:normal">*</text>
</g>
</svg>
</body>
</html>
